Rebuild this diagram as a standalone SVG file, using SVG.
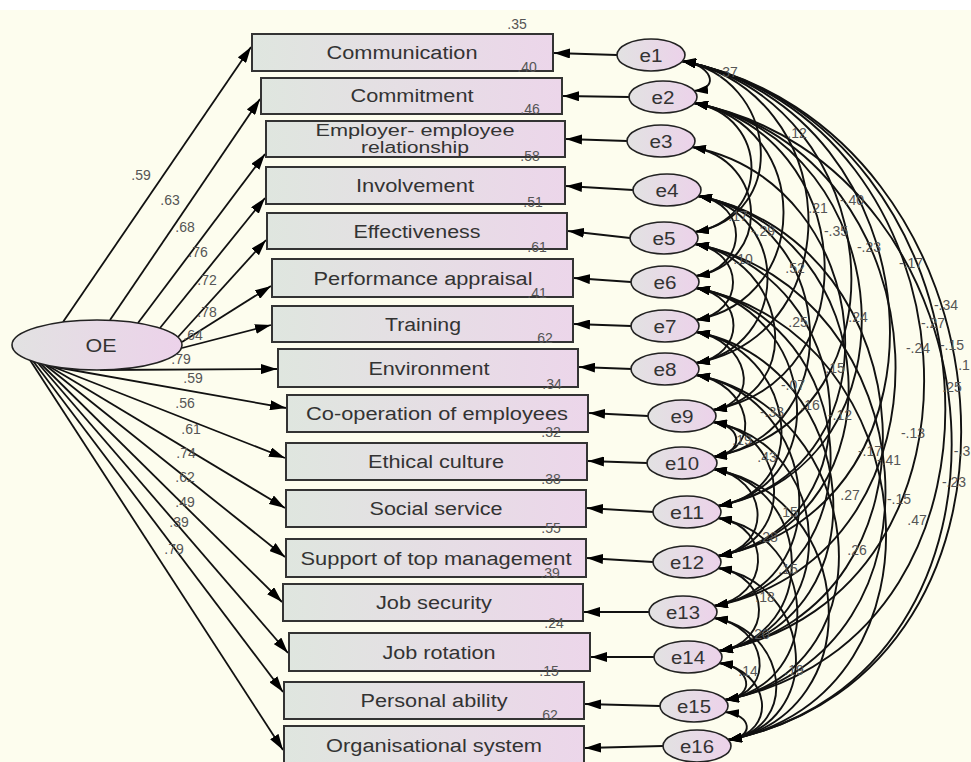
<svg xmlns="http://www.w3.org/2000/svg" width="971" height="762" viewBox="0 0 971 762">
<defs>
<linearGradient id="gb" x1="0" y1="0" x2="1" y2="0"><stop offset="0" stop-color="#dfe6df"/><stop offset="1" stop-color="#ecd6ea"/></linearGradient>
<linearGradient id="ge" x1="0" y1="0" x2="1" y2="0"><stop offset="0" stop-color="#e2e2e2"/><stop offset="1" stop-color="#ecd2ea"/></linearGradient>
<marker id="ah" markerUnits="userSpaceOnUse" markerWidth="16" markerHeight="10" refX="16" refY="5" orient="auto"><path d="M0,0 L16,5 L0,10 z" fill="#000"/></marker>
<marker id="ac" markerUnits="userSpaceOnUse" markerWidth="14" markerHeight="9" refX="14" refY="4.5" orient="auto-start-reverse"><path d="M0,0 L14,4.5 L0,9 z" fill="#000"/></marker>
<style>
.ld{stroke:#111;stroke-width:1.8;fill:none;marker-end:url(#ah)}
.cov{stroke:#111;stroke-width:1.9;fill:none;marker-start:url(#ac);marker-end:url(#ac)}
.box{fill:url(#gb);stroke:#333;stroke-width:2}
.el{fill:url(#ge);stroke:#222;stroke-width:1.6}
.bt{font-family:"Liberation Sans",Arial,sans-serif;font-size:18px;fill:#333;text-anchor:middle}
.bs{font-family:"Liberation Sans",Arial,sans-serif;font-size:16px;fill:#333;text-anchor:middle}
.et{font-family:"Liberation Sans",Arial,sans-serif;font-size:18px;fill:#333;text-anchor:middle}
.n{font-family:"Liberation Sans",Arial,sans-serif;font-size:14px;fill:#555;text-anchor:middle}
</style>
</defs>
<rect x="0" y="0" width="971" height="762" fill="#fdfdee"/>
<rect x="0" y="0" width="971" height="10" fill="#ffffff"/>
<g id="connectors">
<path class="ld" d="M63,322 L251,47"/>
<path class="ld" d="M110,320 L260,99"/>
<path class="ld" d="M138,323 L265,154"/>
<path class="ld" d="M160,328 L265,198"/>
<path class="ld" d="M178,337 L266,240"/>
<path class="ld" d="M182,342 L271,286"/>
<path class="ld" d="M182,348 L271,325"/>
<path class="ld" d="M100,370 L277,369"/>
<path class="ld" d="M55,367 L286,408"/>
<path class="ld" d="M51,366 L285,458"/>
<path class="ld" d="M47,365 L285,508"/>
<path class="ld" d="M44,364 L285,557"/>
<path class="ld" d="M40,363 L282,602"/>
<path class="ld" d="M37,362 L288,653"/>
<path class="ld" d="M33,361 L283,692"/>
<path class="ld" d="M30,360 L283,750"/>
<path class="ld" d="M617,55 L554,53"/>
<path class="ld" d="M629,97 L563,96"/>
<path class="ld" d="M627,141 L566,139"/>
<path class="ld" d="M633,190 L566,186"/>
<path class="ld" d="M630,238 L568,231"/>
<path class="ld" d="M631,282 L574,278"/>
<path class="ld" d="M631,326 L574,324"/>
<path class="ld" d="M632,369 L579,367"/>
<path class="ld" d="M648,416 L589,413"/>
<path class="ld" d="M647,463 L588,461"/>
<path class="ld" d="M654,512 L587,508"/>
<path class="ld" d="M653,562 L587,558"/>
<path class="ld" d="M650,612 L584,612"/>
<path class="ld" d="M655,657 L591,657"/>
<path class="ld" d="M660,706 L585,704"/>
<path class="ld" d="M663,746 L585,748"/>
<path class="cov" d="M682,61 C710,64 722,88 694,91"/>
<path class="cov" d="M682,61 C778,78 791,215 695,232"/>
<path class="cov" d="M682,61 C841,91 855,333 696,363"/>
<path class="cov" d="M682,61 C886,101 917,417 713,457"/>
<path class="cov" d="M682,61 C934,110 970,507 718,556"/>
<path class="cov" d="M682,61 C979,120 1016,592 719,651"/>
<path class="cov" d="M682,61 C1003,125 1046,636 725,700"/>
<path class="cov" d="M682,61 C1022,129 1068,672 728,740"/>
<path class="cov" d="M694,103 C770,116 771,219 695,232"/>
<path class="cov" d="M694,103 C812,125 814,298 696,320"/>
<path class="cov" d="M694,103 C855,134 874,379 713,410"/>
<path class="cov" d="M694,103 C901,143 925,466 718,506"/>
<path class="cov" d="M694,103 C949,153 969,556 714,606"/>
<path class="cov" d="M694,103 C1014,167 1048,676 728,740"/>
<path class="cov" d="M692,147 C878,183 904,470 718,506"/>
<path class="cov" d="M692,147 C768,160 772,263 696,276"/>
<path class="cov" d="M698,196 C750,204 748,268 696,276"/>
<path class="cov" d="M698,196 C792,213 790,346 696,363"/>
<path class="cov" d="M698,196 C837,222 852,431 713,457"/>
<path class="cov" d="M698,196 C885,232 905,520 718,556"/>
<path class="cov" d="M698,196 C930,242 951,606 719,651"/>
<path class="cov" d="M695,244 C745,252 746,312 696,320"/>
<path class="cov" d="M695,244 C789,261 807,393 713,410"/>
<path class="cov" d="M695,244 C859,275 882,525 718,556"/>
<path class="cov" d="M695,244 C928,290 958,654 725,700"/>
<path class="cov" d="M696,288 C746,296 746,355 696,363"/>
<path class="cov" d="M696,288 C815,310 837,484 718,506"/>
<path class="cov" d="M696,288 C863,320 881,574 714,606"/>
<path class="cov" d="M696,288 C927,333 959,695 728,740"/>
<path class="cov" d="M696,332 C747,340 764,402 713,410"/>
<path class="cov" d="M696,332 C794,349 816,489 718,506"/>
<path class="cov" d="M696,332 C863,364 886,619 719,651"/>
<path class="cov" d="M696,375 C749,383 766,449 713,457"/>
<path class="cov" d="M696,375 C821,398 839,583 714,606"/>
<path class="cov" d="M696,375 C866,408 895,668 725,700"/>
<path class="cov" d="M713,422 C744,426 744,454 713,457"/>
<path class="cov" d="M713,422 C791,435 796,543 718,556"/>
<path class="cov" d="M713,422 C837,445 843,628 719,651"/>
<path class="cov" d="M713,469 C769,478 774,547 718,556"/>
<path class="cov" d="M713,469 C814,487 820,633 719,651"/>
<path class="cov" d="M713,469 C857,496 872,713 728,740"/>
<path class="cov" d="M718,518 C774,527 770,597 714,606"/>
<path class="cov" d="M718,518 C819,536 826,682 725,700"/>
<path class="cov" d="M718,568 C772,576 773,643 719,651"/>
<path class="cov" d="M718,568 C815,585 825,723 728,740"/>
<path class="cov" d="M714,618 C767,626 778,692 725,700"/>
<path class="cov" d="M714,618 C787,630 801,728 728,740"/>
<path class="cov" d="M719,663 C751,667 757,696 725,700"/>
<path class="cov" d="M719,663 C770,671 779,732 728,740"/>
<path class="cov" d="M725,712 C752,715 755,737 728,740"/>
</g>
<g id="OE"><ellipse class="el" cx="97" cy="345" rx="85" ry="25"/><text class="et" x="101" y="351.5" textLength="31" lengthAdjust="spacingAndGlyphs">OE</text></g>
<g id="v1"><rect class="box" x="252" y="34" width="301" height="37"/><text class="bt" x="402" y="59" textLength="151" lengthAdjust="spacingAndGlyphs">Communication</text></g>
<g id="v2"><rect class="box" x="261" y="78" width="301" height="36"/><text class="bt" x="412" y="102" textLength="123" lengthAdjust="spacingAndGlyphs">Commitment</text></g>
<g id="v3"><rect class="box" x="266" y="121" width="299" height="36"/><text class="bs" x="415" y="136" textLength="199" lengthAdjust="spacingAndGlyphs">Employer- employee</text><text class="bs" x="415" y="153" textLength="108" lengthAdjust="spacingAndGlyphs">relationship</text></g>
<g id="v4"><rect class="box" x="266" y="167" width="299" height="37"/><text class="bt" x="415" y="192" textLength="118" lengthAdjust="spacingAndGlyphs">Involvement</text></g>
<g id="v5"><rect class="box" x="267" y="213" width="300" height="36"/><text class="bt" x="417" y="237.5" textLength="127" lengthAdjust="spacingAndGlyphs">Effectiveness</text></g>
<g id="v6"><rect class="box" x="272" y="259" width="301" height="38"/><text class="bt" x="423" y="284.5" textLength="219" lengthAdjust="spacingAndGlyphs">Performance appraisal</text></g>
<g id="v7"><rect class="box" x="272" y="306" width="301" height="36"/><text class="bt" x="423" y="330.5" textLength="76" lengthAdjust="spacingAndGlyphs">Training</text></g>
<g id="v8"><rect class="box" x="278" y="349" width="300" height="38"/><text class="bt" x="429" y="374.5" textLength="121" lengthAdjust="spacingAndGlyphs">Environment</text></g>
<g id="v9"><rect class="box" x="287" y="395" width="301" height="37"/><text class="bt" x="437" y="420" textLength="262" lengthAdjust="spacingAndGlyphs">Co-operation of employees</text></g>
<g id="v10"><rect class="box" x="286" y="443" width="301" height="37"/><text class="bt" x="436" y="468" textLength="136" lengthAdjust="spacingAndGlyphs">Ethical culture</text></g>
<g id="v11"><rect class="box" x="286" y="490" width="300" height="37"/><text class="bt" x="436" y="515" textLength="133" lengthAdjust="spacingAndGlyphs">Social service</text></g>
<g id="v12"><rect class="box" x="286" y="539" width="300" height="38"/><text class="bt" x="436" y="564.5" textLength="271" lengthAdjust="spacingAndGlyphs">Support of top management</text></g>
<g id="v13"><rect class="box" x="283" y="584" width="300" height="37"/><text class="bt" x="434" y="609" textLength="116" lengthAdjust="spacingAndGlyphs">Job security</text></g>
<g id="v14"><rect class="box" x="289" y="633" width="301" height="38"/><text class="bt" x="439" y="658.5" textLength="113" lengthAdjust="spacingAndGlyphs">Job rotation</text></g>
<g id="v15"><rect class="box" x="284" y="682" width="300" height="37"/><text class="bt" x="434" y="707" textLength="147" lengthAdjust="spacingAndGlyphs">Personal ability</text></g>
<g id="v16"><rect class="box" x="284" y="726" width="300" height="40"/><text class="bt" x="434" y="751.5" textLength="216" lengthAdjust="spacingAndGlyphs">Organisational system</text></g>
<g id="e1"><ellipse class="el" cx="651" cy="55" rx="34" ry="16"/><text class="et" x="651" y="61.5" textLength="23" lengthAdjust="spacingAndGlyphs">e1</text></g>
<g id="e2"><ellipse class="el" cx="663" cy="97" rx="34" ry="16"/><text class="et" x="663" y="103.5" textLength="23" lengthAdjust="spacingAndGlyphs">e2</text></g>
<g id="e3"><ellipse class="el" cx="661" cy="141" rx="34" ry="16"/><text class="et" x="661" y="147.5" textLength="23" lengthAdjust="spacingAndGlyphs">e3</text></g>
<g id="e4"><ellipse class="el" cx="667" cy="190" rx="34" ry="16"/><text class="et" x="667" y="196.5" textLength="23" lengthAdjust="spacingAndGlyphs">e4</text></g>
<g id="e5"><ellipse class="el" cx="664" cy="238" rx="34" ry="16"/><text class="et" x="664" y="244.5" textLength="23" lengthAdjust="spacingAndGlyphs">e5</text></g>
<g id="e6"><ellipse class="el" cx="665" cy="282" rx="34" ry="16"/><text class="et" x="665" y="288.5" textLength="23" lengthAdjust="spacingAndGlyphs">e6</text></g>
<g id="e7"><ellipse class="el" cx="665" cy="326" rx="34" ry="16"/><text class="et" x="665" y="332.5" textLength="23" lengthAdjust="spacingAndGlyphs">e7</text></g>
<g id="e8"><ellipse class="el" cx="665" cy="369" rx="34" ry="16"/><text class="et" x="665" y="375.5" textLength="23" lengthAdjust="spacingAndGlyphs">e8</text></g>
<g id="e9"><ellipse class="el" cx="682" cy="416" rx="34" ry="16"/><text class="et" x="682" y="422.5" textLength="23" lengthAdjust="spacingAndGlyphs">e9</text></g>
<g id="e10"><ellipse class="el" cx="682" cy="463" rx="35" ry="16"/><text class="et" x="682" y="469.5" textLength="34" lengthAdjust="spacingAndGlyphs">e10</text></g>
<g id="e11"><ellipse class="el" cx="687" cy="512" rx="34" ry="16"/><text class="et" x="687" y="518.5" textLength="34" lengthAdjust="spacingAndGlyphs">e11</text></g>
<g id="e12"><ellipse class="el" cx="687" cy="562" rx="34" ry="16"/><text class="et" x="687" y="568.5" textLength="34" lengthAdjust="spacingAndGlyphs">e12</text></g>
<g id="e13"><ellipse class="el" cx="683" cy="612" rx="34" ry="16"/><text class="et" x="683" y="618.5" textLength="34" lengthAdjust="spacingAndGlyphs">e13</text></g>
<g id="e14"><ellipse class="el" cx="688" cy="657" rx="34" ry="16"/><text class="et" x="688" y="663.5" textLength="34" lengthAdjust="spacingAndGlyphs">e14</text></g>
<g id="e15"><ellipse class="el" cx="694" cy="706" rx="34" ry="16"/><text class="et" x="694" y="712.5" textLength="34" lengthAdjust="spacingAndGlyphs">e15</text></g>
<g id="e16"><ellipse class="el" cx="697" cy="746" rx="34" ry="16"/><text class="et" x="697" y="752.5" textLength="34" lengthAdjust="spacingAndGlyphs">e16</text></g>
<g id="labels">
<text class="n" x="141" y="180">.59</text>
<text class="n" x="170" y="205">.63</text>
<text class="n" x="185" y="232">.68</text>
<text class="n" x="198" y="257">.76</text>
<text class="n" x="207" y="285">.72</text>
<text class="n" x="207" y="317">.78</text>
<text class="n" x="193" y="340">.64</text>
<text class="n" x="181" y="364">.79</text>
<text class="n" x="193" y="383">.59</text>
<text class="n" x="185" y="408">.56</text>
<text class="n" x="191" y="434">.61</text>
<text class="n" x="186" y="458">.74</text>
<text class="n" x="185" y="482">.62</text>
<text class="n" x="185" y="507">.49</text>
<text class="n" x="179" y="527">.39</text>
<text class="n" x="174" y="554">.79</text>
<text class="n" x="517" y="29">.35</text>
<text class="n" x="527" y="72">.40</text>
<text class="n" x="530" y="114">.46</text>
<text class="n" x="530" y="161">.58</text>
<text class="n" x="533" y="207">.51</text>
<text class="n" x="537" y="252">.61</text>
<text class="n" x="537" y="298">.41</text>
<text class="n" x="545" y="343">62</text>
<text class="n" x="552" y="389">.34</text>
<text class="n" x="551" y="437">.32</text>
<text class="n" x="551" y="484">.38</text>
<text class="n" x="551" y="533">.55</text>
<text class="n" x="550" y="578">.39</text>
<text class="n" x="554" y="628">.24</text>
<text class="n" x="549" y="676">.15</text>
<text class="n" x="550" y="720">62</text>
<text class="n" x="728" y="77">.37</text>
<text class="n" x="797" y="138">.12</text>
<text class="n" x="818" y="213">.21</text>
<text class="n" x="852" y="205">-.40</text>
<text class="n" x="738" y="221">.17</text>
<text class="n" x="763" y="236">-.29</text>
<text class="n" x="836" y="236">-.35</text>
<text class="n" x="869" y="252">-.23</text>
<text class="n" x="743" y="264">.10</text>
<text class="n" x="795" y="273">.52</text>
<text class="n" x="911" y="268">-.17</text>
<text class="n" x="798" y="327">.25</text>
<text class="n" x="858" y="322">.24</text>
<text class="n" x="946" y="310">-.34</text>
<text class="n" x="933" y="328">-.27</text>
<text class="n" x="918" y="353">-.24</text>
<text class="n" x="952" y="350">-.15</text>
<text class="n" x="964" y="370">.1</text>
<text class="n" x="835" y="373">.15</text>
<text class="n" x="952" y="392">.25</text>
<text class="n" x="793" y="390">-.07</text>
<text class="n" x="810" y="410">.16</text>
<text class="n" x="772" y="417">-.33</text>
<text class="n" x="840" y="420">-.12</text>
<text class="n" x="742" y="445">.19</text>
<text class="n" x="767" y="462">.43</text>
<text class="n" x="913" y="438">-.13</text>
<text class="n" x="870" y="456">-.17</text>
<text class="n" x="889" y="465">-.41</text>
<text class="n" x="962" y="456">-.3</text>
<text class="n" x="954" y="487">-.23</text>
<text class="n" x="850" y="500">.27</text>
<text class="n" x="899" y="504">-.15</text>
<text class="n" x="788" y="517">.15</text>
<text class="n" x="917" y="525">.47</text>
<text class="n" x="768" y="542">.28</text>
<text class="n" x="857" y="555">.26</text>
<text class="n" x="788" y="574">.15</text>
<text class="n" x="765" y="602">.18</text>
<text class="n" x="760" y="639">.20</text>
<text class="n" x="748" y="676">.14</text>
<text class="n" x="794" y="675">.19</text>
</g>
</svg>
